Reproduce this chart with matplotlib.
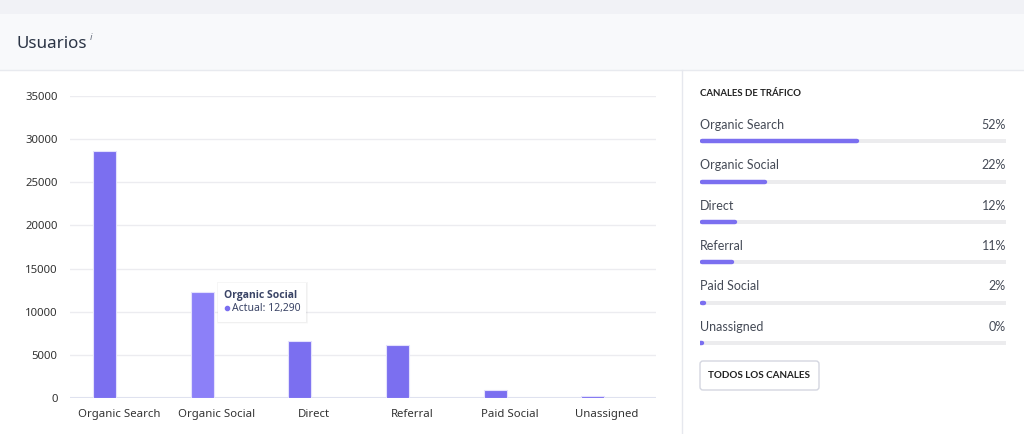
import matplotlib.pyplot as plt
import numpy as np
from matplotlib.patches import Rectangle, FancyBboxPatch

# datos
categories = ["Organic Search", "Organic Social", "Direct", "Referral", "Paid Social", "Unassigned"]
values = [28630, 12290, 6650, 6150, 930, 260]
shares = [52, 22, 12, 11, 2, 0]
yticks = [0, 5000, 10000, 15000, 20000, 25000, 30000, 35000]
highlight = 1

W, H = 1024, 434
bar_color = "#7b6ff0"
bar_hl = "#8c80f8"
text_dark = "#2b3445"

fig = plt.figure(figsize=(W / 100, H / 100), dpi=100)
fig.patch.set_facecolor("white")

def px(x0, y0, x1, y1):
    # caja en pixeles (arriba-izquierda) -> fraccion de figura
    return [x0 / W, 1 - y1 / H, (x1 - x0) / W, (y1 - y0) / H]

# fondos de cabecera
bg = fig.add_axes([0, 0, 1, 1])
bg.set_xlim(0, W)
bg.set_ylim(H, 0)
bg.axis("off")
bg.add_patch(Rectangle((0, 0), W, 14, color="#f1f2f6", lw=0))
bg.add_patch(Rectangle((0, 14), W, 56, color="#f8f9fb", lw=0))
bg.plot([0, W], [70, 70], color="#e8eaef", lw=1)
bg.plot([682, 682], [70, H], color="#e6e8ee", lw=1)
bg.text(16, 44, "Usuarios", fontsize=12.2, color=text_dark, va="center", family="Noto Sans")
bg.text(90, 38, "i", fontsize=7, color="#6b7280", va="center", style="italic", family="Noto Sans")

# grafico de barras
ax = fig.add_axes(px(70, 96, 656, 398))
x = np.arange(len(categories))
colors = [bar_hl if i == highlight else bar_color for i in x]
ax.bar(x - 0.148, values, width=0.235, color=colors, edgecolor="#e4e1fd", linewidth=0.8, zorder=3)
ax.set_xlim(-0.5, len(categories) - 0.5)
ax.set_ylim(0, 35000)
ax.set_yticks(yticks)
ax.set_yticklabels([str(t) for t in yticks])
ax.set_xticks(x)
ax.set_xticklabels(categories)
ax.tick_params(length=0, labelsize=8.2, colors="#333333")
ax.tick_params(axis="y", pad=9)
ax.tick_params(axis="x", pad=8)
for lab in ax.get_xticklabels() + ax.get_yticklabels():
    lab.set_family("Noto Sans")
ax.grid(axis="y", color="#ececf0", lw=1, zorder=0)
ax.set_axisbelow(True)
for s in ax.spines.values():
    s.set_visible(False)
ax.axhline(0, color="#dfe2ef", lw=1.5, zorder=2)

# tooltip
for k, a in enumerate([0.025, 0.02, 0.015]):
    d = 0.006 * (k + 1)
    ax.add_patch(Rectangle((1.02 - d, 8800 - 60 * (k + 1)), 0.9 + 2 * d, 4500 + 120 * (k + 1),
                           facecolor="#000000", alpha=a, lw=0, zorder=4, clip_on=False))
ax.add_patch(Rectangle((1.02, 8800), 0.9, 4500, facecolor="white", lw=0, zorder=5, clip_on=False))
ax.text(1.077, 11850, categories[highlight], fontsize=7.5, fontweight="bold", color="#3a4466",
        va="center", zorder=6, family="Open Sans")
ax.plot([1.107], [10400], "o", ms=3, color=bar_color, zorder=6)
ax.text(1.158, 10400, f"Actual: {values[highlight]:,}", fontsize=7.5, color="#3a4466",
        va="center", zorder=6, family="Noto Sans")

# panel derecho
bg.text(700, 93, "CANALES DE TRÁFICO", fontsize=6.9, fontweight="bold", color="#222222",
        va="center", family="Lato")

ax2 = fig.add_axes(px(700, 101, 1006, 363))
ax2.set_xlim(0, 100)
ax2.set_ylim(5.5, -1)
ax2.axis("off")
rows = np.arange(len(categories))
ax2.barh(rows, [100] * len(rows), height=0.1, color="#ececee", lw=0)
ax2.hlines(rows, 0.65, [max(s, 0.66) - 0.65 for s in shares], color=bar_color, lw=3.2,
           capstyle="round")
for i, (c, s) in enumerate(zip(categories, shares)):
    ax2.text(0, i - 0.4, c, fontsize=9, color="#444a56", va="center", family="Lato")
    ax2.text(100, i - 0.4, f"{s}%", fontsize=9, color="#444a56", va="center", ha="right", family="Lato")

# boton
bg.add_patch(FancyBboxPatch((700, 361), 119, 29, boxstyle="round,pad=0,rounding_size=3",
                            facecolor="white", edgecolor="#d4d6e0", lw=1))
bg.text(759.5, 376, "TODOS LOS CANALES", fontsize=7.1, fontweight="bold", color="#222222",
        ha="center", va="center", family="Lato")

fig.savefig("out.png", dpi=100)
